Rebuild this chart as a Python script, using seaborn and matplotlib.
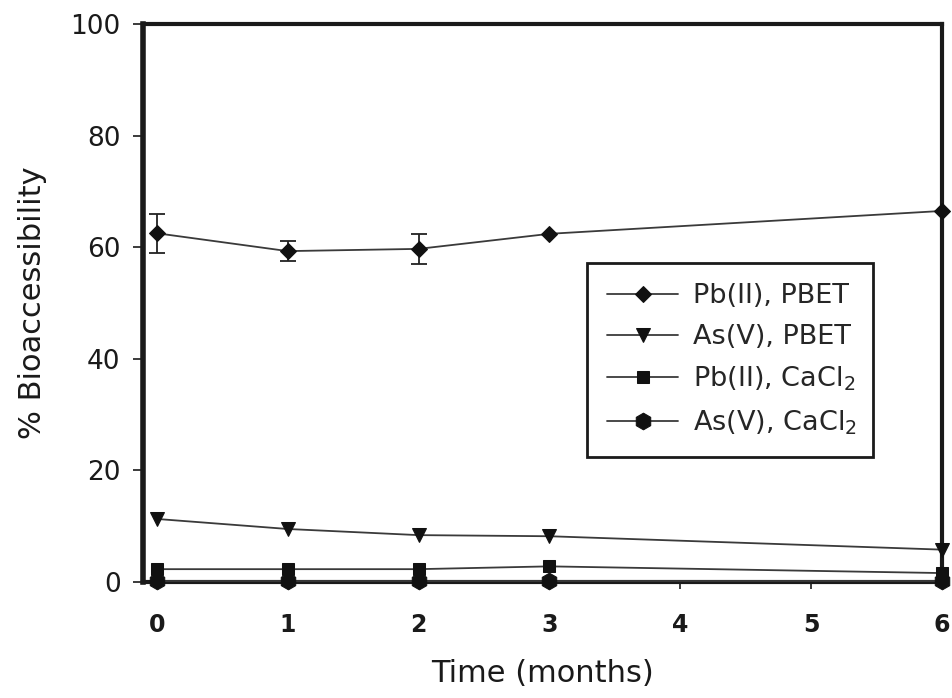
import matplotlib
matplotlib.use("Agg")
import matplotlib.pyplot as plt
import seaborn as sns

# time points (months) and % bioaccessibility
months = [0, 1, 2, 3, 6]
pb_pbet = [62.5, 59.3, 59.7, 62.4, 66.5]
pb_pbet_err = [3.5, 1.8, 2.7, 0.0, 0.0]
as_pbet = [11.3, 9.5, 8.4, 8.2, 5.8]
pb_cacl2 = [2.3, 2.3, 2.3, 2.8, 1.6]
as_cacl2 = [0.1, 0.1, 0.1, 0.1, 0.1]

labels = ["Pb(II), PBET", "As(V), PBET", r"Pb(II), CaCl$_2$", r"As(V), CaCl$_2$"]

sns.set_style("ticks")
plt.rcParams["font.family"] = ["DejaVu Sans"]
plt.rcParams["mathtext.fontset"] = "dejavusans"

fig, ax = plt.subplots(figsize=(9.52, 6.98), dpi=100)
fig.subplots_adjust(left=0.150, right=0.9895, top=0.9656, bottom=0.1662)

line_col = "#3a3a3a"
series = [
    (pb_pbet, "D", 8.5, labels[0]),
    (as_pbet, "v", 10, labels[1]),
    (pb_cacl2, "s", 9, labels[2]),
    (as_cacl2, "h", 12, labels[3]),
]
for vals, mk, ms, lab in series:
    sns.lineplot(x=months, y=vals, ax=ax, color=line_col, linewidth=1.3,
                 marker=mk, markersize=ms, markerfacecolor="#111111",
                 markeredgecolor="#111111", label=lab, clip_on=False, zorder=3)

ax.errorbar(months[:3], pb_pbet[:3], yerr=pb_pbet_err[:3], fmt="none",
            ecolor="#222222", elinewidth=1.3, capsize=6, capthick=1.3, zorder=2)

ax.set_xlim(-0.107, 6.0)
ax.set_ylim(0, 100)
ax.set_xticks(range(7))
ax.set_yticks(range(0, 101, 20))

for s in ax.spines.values():
    s.set_visible(True)
    s.set_linewidth(3)
    s.set_color("#1a1a1a")
ax.spines["left"].set_linewidth(4)

ax.tick_params(axis="y", direction="out", length=7, width=1.2, pad=9,
               labelsize=19, colors="#1a1a1a")
ax.tick_params(axis="x", direction="out", length=5, width=1.2, pad=17,
               labelsize=17, colors="#1a1a1a")
for t in ax.get_xticklabels():
    t.set_fontweight("bold")

ax.set_xlabel("Time (months)", fontsize=22, labelpad=16, color="#1a1a1a")
ax.set_ylabel("% Bioaccessibility", fontsize=22, labelpad=17, color="#1a1a1a")

leg = ax.legend(loc="upper left", bbox_to_anchor=(0.556, 0.572, 0.358, 0.0),
                mode="expand", fontsize=19.5, frameon=True, fancybox=False,
                borderpad=0.75, labelspacing=0.55, handlelength=2.6,
                handletextpad=0.55, borderaxespad=0)
leg.get_frame().set_edgecolor("#1a1a1a")
leg.get_frame().set_linewidth(2)
leg.get_frame().set_alpha(1)

fig.savefig("out.png", dpi=100)
